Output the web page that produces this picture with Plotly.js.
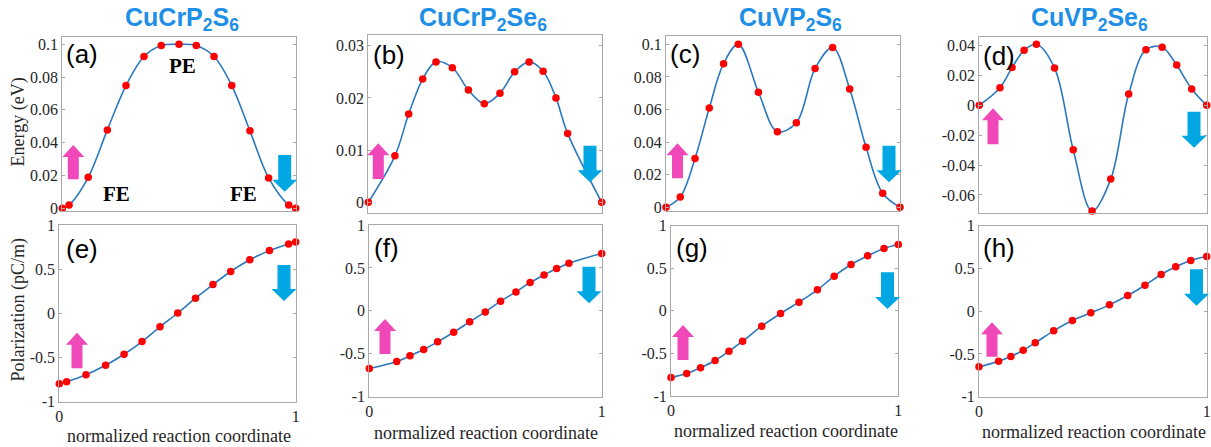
<!DOCTYPE html>
<html><head><meta charset="utf-8">
<script src="https://cdn.plot.ly/plotly-3.0.1.min.js"></script>
<style>html,body{margin:0;padding:0;background:#fff}#chart{width:1211px;height:447px}</style>
</head><body><div id="chart"></div>
<script>
// ---------------- data ----------------
const materials = ['CuCrP<sub>2</sub>S<sub>6</sub>', 'CuCrP<sub>2</sub>Se<sub>6</sub>', 'CuVP<sub>2</sub>S<sub>6</sub>', 'CuVP<sub>2</sub>Se<sub>6</sub>'];
const panelLabels = ['(a)', '(b)', '(c)', '(d)', '(e)', '(f)', '(g)', '(h)'];

const coordA = [0, 0.029, 0.111, 0.193, 0.273, 0.350, 0.424, 0.500, 0.574, 0.650, 0.726, 0.804, 0.884, 0.970, 1];
const energyA = [0, 0.002, 0.0189, 0.0478, 0.0748, 0.0925, 0.0992, 0.1, 0.0992, 0.0925, 0.0748, 0.0472, 0.0185, 0.002, 0];

const coordB = [0, 0.114, 0.173, 0.233, 0.290, 0.360, 0.429, 0.497, 0.564, 0.627, 0.689, 0.749, 0.804, 0.854, 1];
const energyB = [0, 0.0089, 0.0169, 0.0236, 0.0269, 0.0258, 0.0215, 0.0189, 0.0209, 0.0250, 0.0269, 0.0251, 0.0200, 0.0132, 0];

const coordC = [0, 0.061, 0.124, 0.185, 0.246, 0.309, 0.395, 0.476, 0.557, 0.637, 0.712, 0.785, 0.855, 0.926, 1];
const energyC = [0, 0.0063, 0.0299, 0.0609, 0.0881, 0.1, 0.0706, 0.0464, 0.0519, 0.0851, 0.0980, 0.0726, 0.0368, 0.0086, 0];

const coordD = [0, 0.091, 0.144, 0.197, 0.251, 0.331, 0.413, 0.496, 0.578, 0.657, 0.733, 0.804, 0.868, 0.934, 1];
const energyD = [0, 0.0118, 0.0253, 0.0369, 0.0409, 0.0250, -0.0297, -0.0708, -0.0494, 0.0076, 0.0373, 0.0389, 0.0270, 0.0110, 0];

const coordE = [0, 0.031, 0.113, 0.196, 0.274, 0.350, 0.426, 0.501, 0.576, 0.650, 0.725, 0.806, 0.889, 0.970, 1];
const polarE = [-0.797, -0.774, -0.694, -0.588, -0.463, -0.319, -0.152, 0.004, 0.171, 0.326, 0.474, 0.607, 0.710, 0.786, 0.808];

const coordF = [0, 0.118, 0.175, 0.234, 0.294, 0.363, 0.432, 0.499, 0.565, 0.631, 0.692, 0.752, 0.806, 0.859, 1];
const polarF = [-0.672, -0.590, -0.524, -0.450, -0.361, -0.249, -0.128, -0.012, 0.113, 0.221, 0.330, 0.419, 0.493, 0.555, 0.668];

const coordG = [0, 0.069, 0.130, 0.194, 0.255, 0.315, 0.399, 0.482, 0.563, 0.644, 0.718, 0.792, 0.865, 0.937, 1];
const polarG = [-0.783, -0.736, -0.669, -0.583, -0.474, -0.356, -0.180, -0.031, 0.102, 0.247, 0.407, 0.544, 0.646, 0.732, 0.779];

const coordH = [0, 0.086, 0.140, 0.194, 0.247, 0.328, 0.410, 0.491, 0.573, 0.653, 0.729, 0.800, 0.864, 0.930, 1];
const polarH = [-0.651, -0.585, -0.530, -0.456, -0.370, -0.230, -0.109, -0.019, 0.074, 0.183, 0.304, 0.429, 0.519, 0.593, 0.639];

// tick values / labels
const energyTicks01 = [0, 0.02, 0.04, 0.06, 0.08, 0.1];
const energyTickText01 = ['0', '0.02', '0.04', '0.06', '0.08', '0.1'];
const energyTicks003 = [0, 0.01, 0.02, 0.03];
const energyTickText003 = ['0', '0.01', '0.02', '0.03'];
const energyTicksD = [-0.06, -0.04, -0.02, 0, 0.02, 0.04];
const energyTickTextD = ['-0.06', '-0.04', '-0.02', '0', '0.02', '0.04'];
const polarTicks = [-1, -0.5, 0, 0.5, 1];
const polarTickText = ['-1', '-0.5', '0', '0.5', '1'];
const coordTicks = [0, 1];
const coordTickText = ['0', '1'];

// ---------------- layout geometry (pixels) ----------------
const W = 1211, H = 447;
const px = x => x / W;
const py = y => 1 - y / H;

const panels = [
  {x: coordA, y: energyA, box: [62.3, 295.7, 36.7, 210.7], yr: [-0.00146, 0.1046], tv: energyTicks01, tt: energyTickText01, bottom: false},
  {x: coordB, y: energyB, box: [368.3, 601.7, 35, 213.3], yr: [-0.0021, 0.03205], tv: energyTicks003, tt: energyTickText003, bottom: false},
  {x: coordC, y: energyC, box: [666, 900, 36, 210.7], yr: [-0.0021, 0.1051], tv: energyTicks01, tt: energyTickText01, bottom: false},
  {x: coordD, y: energyD, box: [979.3, 1206.7, 36.7, 213.3], yr: [-0.0723, 0.046], tv: energyTicksD, tt: energyTickTextD, bottom: false},
  {x: coordE, y: polarE, box: [59.3, 295.7, 225, 401.7], yr: [-1, 1], tv: polarTicks, tt: polarTickText, bottom: true},
  {x: coordF, y: polarF, box: [369.3, 601.7, 225, 396.7], yr: [-1, 1], tv: polarTicks, tt: polarTickText, bottom: true},
  {x: coordG, y: polarG, box: [671, 898.3, 225.7, 396], yr: [-1, 1], tv: polarTicks, tt: polarTickText, bottom: true},
  {x: coordH, y: polarH, box: [979, 1206.7, 225.7, 396.7], yr: [-1, 1], tv: polarTicks, tt: polarTickText, bottom: true}
];

const axisColor = '#a9a9a9';
const tickFont = {family: 'Liberation Serif, Times New Roman, serif', size: 16, color: '#262626'};
const serifFont = {family: 'Liberation Serif, Times New Roman, serif', size: 18, color: '#262626'};

const data = [];
const layout = {
  width: W, height: H,
  margin: {l: 0, r: 0, t: 0, b: 0},
  paper_bgcolor: '#ffffff', plot_bgcolor: '#ffffff',
  showlegend: false,
  annotations: [], shapes: []
};

panels.forEach((p, i) => {
  const n = i + 1;
  const xa = 'x' + (n === 1 ? '' : n), ya = 'y' + (n === 1 ? '' : n);
  data.push({
    type: 'scatter', mode: 'lines+markers', x: p.x, y: p.y,
    xaxis: xa, yaxis: ya, cliponaxis: false,
    line: {color: '#2B78BE', width: 1.6, shape: 'spline', smoothing: 1},
    marker: {color: '#ff0000', size: 7.5},
    hoverinfo: 'x+y'
  });
  const common = {
    showline: true, mirror: 'ticks', linecolor: axisColor, linewidth: 1,
    ticks: 'inside', ticklen: 3, tickcolor: axisColor, tickwidth: 1,
    showgrid: false, zeroline: false, tickfont: tickFont
  };
  layout['xaxis' + (n === 1 ? '' : n)] = Object.assign({}, common, {
    domain: [px(p.box[0]), px(p.box[1])], range: [0, 1],
    anchor: ya, tickmode: 'array', tickvals: coordTicks, ticktext: coordTickText,
    showticklabels: p.bottom
  });
  layout['yaxis' + (n === 1 ? '' : n)] = Object.assign({}, common, {
    domain: [py(p.box[3]), py(p.box[2])], range: p.yr,
    anchor: xa, tickmode: 'array', tickvals: p.tv, ticktext: p.tt
  });
});

// material titles
const titleCenters = [182, 483, 790, 1089];
materials.forEach((m, i) => {
  layout.annotations.push({
    xref: 'paper', yref: 'paper', x: px(titleCenters[i]), y: py(19),
    xanchor: 'center', yanchor: 'middle', showarrow: false, text: m,
    font: {family: 'Liberation Sans, Arial, sans-serif', size: 25, weight: 'bold', color: '#1E8FE6'}
  });
});

// panel labels
const labelPos = [[64, 54], [370.5, 55.5], [668, 54.5], [980.5, 56], [64, 249], [372, 247.5], [674, 248], [980.5, 248]];
panelLabels.forEach((t, i) => {
  layout.annotations.push({
    xref: 'paper', yref: 'paper', x: px(labelPos[i][0]), y: py(labelPos[i][1]),
    xanchor: 'left', yanchor: 'middle', showarrow: false, text: t,
    font: {family: 'Liberation Sans, Arial, sans-serif', size: 26, color: '#000000'}
  });
});

// axis titles
layout.annotations.push({xref: 'paper', yref: 'paper', x: px(17.5), y: py(122), textangle: -90,
  xanchor: 'center', yanchor: 'middle', showarrow: false, text: 'Energy (eV)', font: serifFont});
layout.annotations.push({xref: 'paper', yref: 'paper', x: px(17.5), y: py(310), textangle: -90,
  xanchor: 'center', yanchor: 'middle', showarrow: false, text: 'Polarization (pC/m)', font: serifFont});
const xTitleCenters = [[179, 436], [486, 433], [786, 431], [1094, 432]];
xTitleCenters.forEach(c => {
  layout.annotations.push({xref: 'paper', yref: 'paper', x: px(c[0]), y: py(c[1]),
    xanchor: 'center', yanchor: 'middle', showarrow: false, text: 'normalized reaction coordinate', font: serifFont});
});

// phase labels in panel (a)
const phaseLabels = [['PE', 182, 66], ['FE', 116, 194], ['FE', 243, 194]];
phaseLabels.forEach(l => {
  layout.annotations.push({xref: 'paper', yref: 'paper', x: px(l[1]), y: py(l[2]),
    xanchor: 'center', yanchor: 'middle', showarrow: false, text: l[0],
    font: {family: 'Liberation Serif, Times New Roman, serif', size: 21, weight: 'bold', color: '#000000'}});
});

// block arrows (decoration): [centerX, top, bottom, direction]
const arrows = [
  [73.3, 145, 179.3, 'up'], [284.7, 155, 191.7, 'down'],
  [378.3, 143.3, 179, 'up'], [590, 145.7, 182.3, 'down'],
  [677.5, 143.3, 178.3, 'up'], [889, 145.7, 182.3, 'down'],
  [993, 108.3, 144.3, 'up'], [1194, 111.7, 147.7, 'down'],
  [77, 332.7, 368.3, 'up'], [284, 265, 301, 'down'],
  [385, 319, 354, 'up'], [589, 266.7, 303.3, 'down'],
  [683, 325, 360, 'up'], [887.5, 272.3, 309, 'down'],
  [992, 322.3, 356.7, 'up'], [1196.5, 269.3, 305.7, 'down']
];
arrows.forEach(a => {
  const [cx, top, bot, dir] = a;
  const up = dir === 'up';
  const bw = up ? 5.5 : 6.5, hw = up ? 11 : 12.5, hh = 12;
  let pts;
  if (up) {
    pts = [[cx, top], [cx + hw, top + hh], [cx + bw, top + hh], [cx + bw, bot], [cx - bw, bot], [cx - bw, top + hh], [cx - hw, top + hh]];
  } else {
    pts = [[cx, bot], [cx + hw, bot - hh], [cx + bw, bot - hh], [cx + bw, top], [cx - bw, top], [cx - bw, bot - hh], [cx - hw, bot - hh]];
  }
  const path = 'M ' + pts.map(q => px(q[0]) + ',' + py(q[1])).join(' L ') + ' Z';
  layout.shapes.push({type: 'path', xref: 'paper', yref: 'paper', path: path,
    fillcolor: up ? '#F047B9' : '#00A7E3', line: {width: 0}, layer: 'above'});
});

Plotly.newPlot('chart', data, layout, {displayModeBar: false, staticPlot: true});
</script>
</body></html>
